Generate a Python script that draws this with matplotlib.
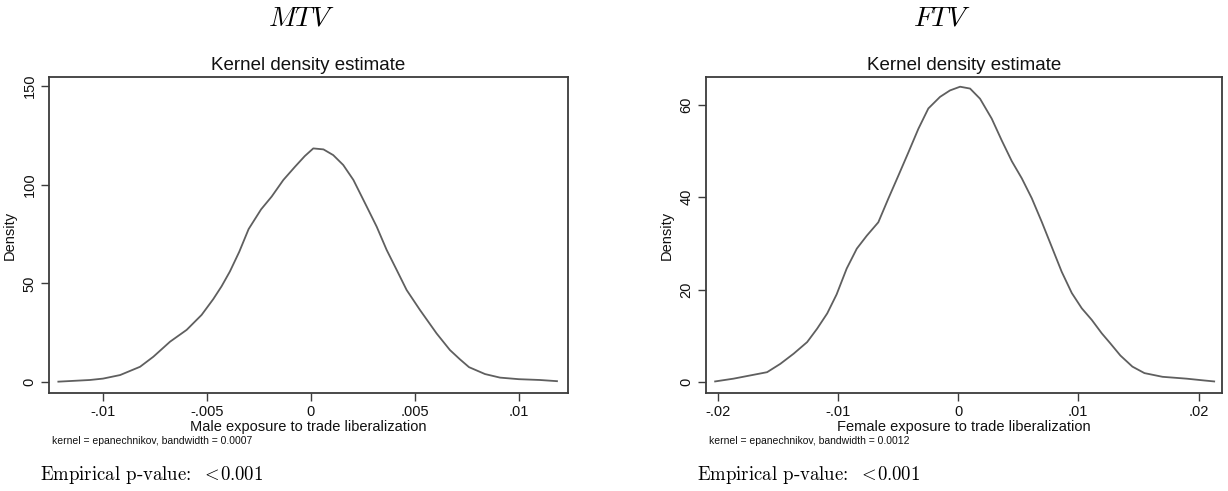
import matplotlib
matplotlib.use("Agg")
import matplotlib.pyplot as plt
import numpy as np

plt.rcParams['mathtext.fontset'] = 'cm'
plt.rcParams['font.family'] = ['Liberation Sans', 'DejaVu Sans']

# ---------------- data ----------------
mtv_x = [-0.01215, -0.01063, -0.0100, -0.00918, -0.00822, -0.00758, -0.00678, -0.00598,
         -0.00526, -0.00470, -0.00430, -0.00390, -0.00345, -0.00300, -0.00240, -0.00189,
         -0.00133, -0.00077, -0.00030, 0.00011, 0.00060, 0.00107, 0.00155, 0.00204,
         0.00268, 0.00316, 0.00364, 0.00412, 0.00460, 0.00524, 0.00604, 0.00668,
         0.00716, 0.00760, 0.00837, 0.00909, 0.0100, 0.0110, 0.01183]
mtv_y = [0.15, 1.0, 1.7, 3.5, 7.7, 12.8, 20.4, 26.4,
         34.0, 42.0, 48.5, 56.0, 66.0, 77.5, 87.5, 94.0,
         102.4, 109.1, 114.5, 118.4, 117.9, 115.0, 110.0, 102.4,
         88.9, 78.7, 66.9, 56.8, 46.6, 36.5, 24.6, 16.2,
         11.5, 7.5, 4.0, 2.2, 1.4, 1.0, 0.4]

ftv_x = [-0.0202, -0.01867, -0.01588, -0.01478, -0.01367, -0.01255, -0.01172, -0.01088,
         -0.0101, -0.00926, -0.00842, -0.00759, -0.00663, -0.00580, -0.00496, -0.00413,
         -0.00330, -0.00247, -0.00150, -0.00067, 0.00017, 0.00100, 0.00183, 0.00280,
         0.00363, 0.00447, 0.00530, 0.00613, 0.00696, 0.00779, 0.00862, 0.00946,
         0.01029, 0.01112, 0.01195, 0.01264, 0.0135, 0.0145, 0.0155, 0.0170,
         0.0190, 0.0205, 0.0213]
ftv_y = [0.2, 0.8, 2.2, 4.0, 6.2, 8.7, 11.6, 14.9,
         19.0, 24.6, 28.9, 31.7, 34.6, 39.7, 44.7, 49.7,
         54.8, 59.2, 61.7, 63.1, 63.9, 63.5, 61.3, 57.0,
         52.3, 47.8, 44.1, 39.8, 34.7, 29.3, 23.9, 19.3,
         16.0, 13.5, 10.6, 8.5, 5.8, 3.4, 2.0, 1.2,
         0.8, 0.4, 0.2]

mtv_xticks = [-0.01, -0.005, 0, 0.005, 0.01]
mtv_xticklabels = ['-.01', '-.005', '0', '.005', '.01']
mtv_yticks = [0, 50, 100, 150]
ftv_xticks = [-0.02, -0.01, 0, 0.01, 0.02]
ftv_xticklabels = ['-.02', '-.01', '0', '.01', '.02']
ftv_yticks = [0, 20, 40, 60]

panels = [
    dict(name=r'$MTV$', x=mtv_x, y=mtv_y, xticks=mtv_xticks, xtl=mtv_xticklabels,
         yticks=mtv_yticks, xlim=(-0.0126, 0.01236), ylim=(-5.6, 154.6),
         xlabel='Male exposure to trade liberalization',
         note='kernel = epanechnikov, bandwidth = 0.0007',
         rect=[49/1228, 1-393/491, (568-49)/1228, (393-77)/491], fig_cx=301/1228),
    dict(name=r'$FTV$', x=ftv_x, y=ftv_y, xticks=ftv_xticks, xtl=ftv_xticklabels,
         yticks=ftv_yticks, xlim=(-0.02096, 0.02195), ylim=(-2.3, 66.0),
         xlabel='Female exposure to trade liberalization',
         note='kernel = epanechnikov, bandwidth = 0.0012',
         rect=[706/1228, 1-393/491, (1222-706)/1228, (393-77)/491], fig_cx=942/1228),
]

fig = plt.figure(figsize=(12.28, 4.91), dpi=100)
frame_col = '#3c3c3c'
line_col = '#5f5f5f'

for p in panels:
    ax = fig.add_axes(p['rect'])
    ax.plot(p['x'], p['y'], color=line_col, lw=1.3)
    ax.set_xlim(*p['xlim'])
    ax.set_ylim(*p['ylim'])
    ax.set_xticks(p['xticks'])
    ax.set_xticklabels(p['xtl'])
    ax.set_yticks(p['yticks'])
    ax.set_yticklabels([str(v) for v in p['yticks']], rotation=90, va='center')
    for s in ax.spines.values():
        s.set_color(frame_col)
        s.set_linewidth(1.3)
    ax.tick_params(axis='both', direction='out', length=6, width=1.0, color=frame_col,
                   labelsize=10.5, labelcolor='#111111', pad=3)
    ax.set_title('Kernel density estimate', fontsize=13.5, pad=5, color='#111111')
    ax.set_ylabel('Density', fontsize=10.5, labelpad=4, color='#111111')
    ax.set_xlabel(p['xlabel'], fontsize=10.5, labelpad=0, color='#111111')
    pos = ax.get_position()
    fig.text(pos.x0 + 3/1228, 1 - 441/491, p['note'], fontsize=7.5, va='center',
             ha='left', color='#111111')
    fig.text(p['fig_cx'], 1 - 18/491, p['name'], fontsize=20, ha='center', va='center')
    fig.text(pos.x0 - 9/1228, 1 - 475/491,
             r'$\text{Empirical p-value:}\ \ <\!0.001$',
             fontsize=13.5, ha='left', va='center')

fig.savefig('out.png', dpi=100)
